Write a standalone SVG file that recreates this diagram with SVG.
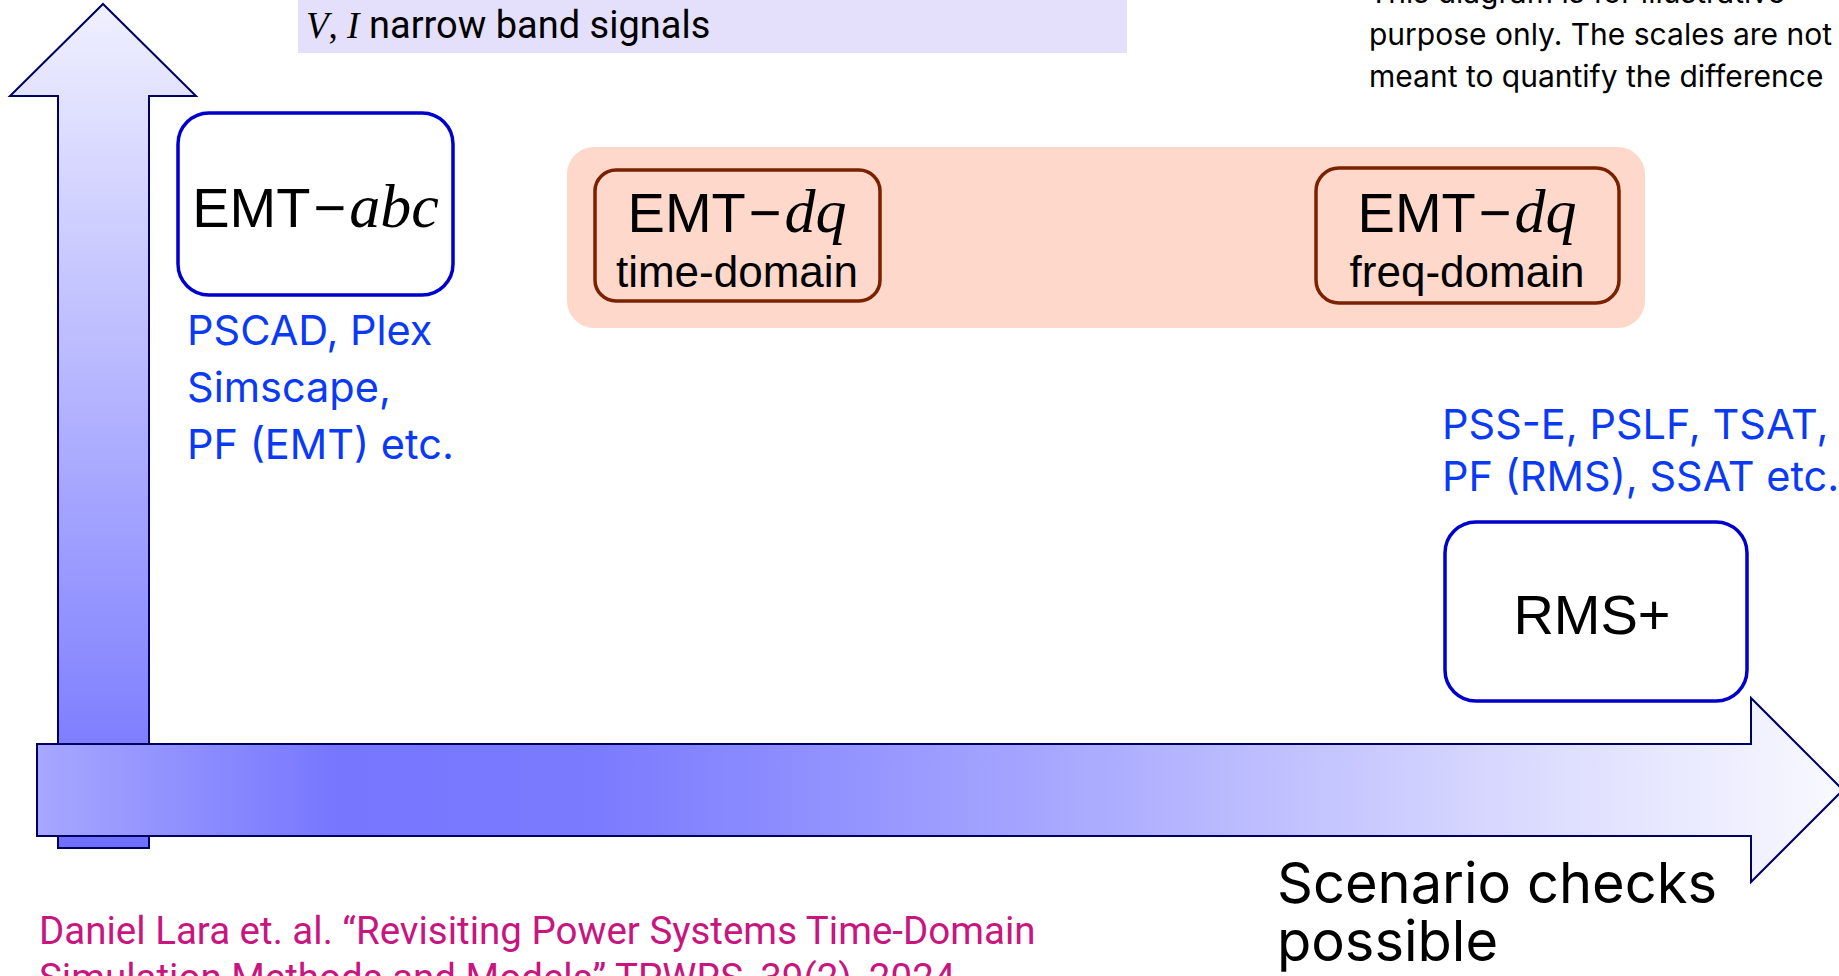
<svg xmlns="http://www.w3.org/2000/svg" width="1839" height="976" viewBox="0 0 1839 976">
<defs>
<linearGradient id="gv" gradientUnits="userSpaceOnUse" x1="0" y1="4" x2="0" y2="848">
<stop offset="0" stop-color="#f0f0ff"/>
<stop offset="1" stop-color="#6f6fff"/>
</linearGradient>
<linearGradient id="gh" gradientUnits="userSpaceOnUse" x1="37" y1="0" x2="1843" y2="0">
<stop offset="0" stop-color="#a7a7ff"/>
<stop offset="0.168" stop-color="#7676ff"/>
<stop offset="0.31" stop-color="#7b7bff"/>
<stop offset="0.59" stop-color="#acacff"/>
<stop offset="0.81" stop-color="#d8d8ff"/>
<stop offset="1" stop-color="#f9f9ff"/>
</linearGradient>
<style>
.axis{stroke:#000060;stroke-width:2;stroke-linejoin:miter}
.bluebox{fill:#ffffff;stroke:#0000cc;stroke-width:3.5}
.brownbox{fill:none;stroke:#7a2100;stroke-width:3.5}
.big{font-family:"Liberation Sans",Arial,sans-serif;font-size:56px;fill:#000}
.math{font-family:"Liberation Serif","Times New Roman",serif;font-style:italic}
.mbig{font-size:62px}
.sub{font-family:"Liberation Sans",Arial,sans-serif;font-size:44px;fill:#000}
.tools{font-family:Inter,"Noto Sans",sans-serif;font-size:41.5px;fill:#0a3af5}
.note{font-family:Inter,"Noto Sans",sans-serif;font-size:30px;fill:#000}
.cite{font-family:Roboto,"Noto Sans",sans-serif;font-size:38.5px;fill:#c8157f}
</style>
</defs>

<g id="connectors">
<path class="axis" fill="url(#gv)" d="M58,848 L58,96 L10,96 L103,4 L196,96 L149,96 L149,848 Z"/>
<path class="axis" fill="url(#gh)" d="M37,744 L1751,744 L1751,698 L1843,790 L1751,882 L1751,836 L37,836 Z"/>
</g>

<g id="label-signals">
<rect x="298" y="0" width="829" height="53" fill="#e4e0fb"/>
<text x="306" y="38" font-family="Roboto,sans-serif" font-size="38" fill="#000"><tspan class="math" font-size="37">V</tspan><tspan font-family="Liberation Serif,serif" font-size="37">, </tspan><tspan class="math" font-size="37">I</tspan><tspan x="369">narrow band signals</tspan></text>
</g>

<g id="note">
<text class="note" x="1369" y="3">This diagram is for illustrative</text>
<text class="note" x="1369" y="45">purpose only. The scales are not</text>
<text class="note" x="1369" y="87">meant to quantify the difference</text>
</g>

<g id="node-emt-abc">
<rect class="bluebox" x="178" y="113" width="275" height="182" rx="31"/>
<text class="big" x="315.5" y="227" text-anchor="middle">EMT<tspan dx="3">−</tspan><tspan class="math mbig" dx="3">abc</tspan></text>
</g>

<g id="tools-emt">
<text class="tools" x="187" y="345">PSCAD, Plex</text>
<text class="tools" x="187" y="402">Simscape,</text>
<text class="tools" x="187" y="459">PF (EMT) etc.</text>
</g>

<g id="group-dq">
<rect x="567" y="147" width="1078" height="181" rx="27" fill="#fed8cb"/>
</g>

<g id="node-emt-dq-time">
<rect class="brownbox" x="595" y="170" width="285" height="131" rx="21"/>
<text class="big" x="737" y="232" text-anchor="middle">EMT<tspan dx="3">−</tspan><tspan class="math mbig" dx="3">dq</tspan></text>
<text class="sub" x="737" y="287" text-anchor="middle">time-domain</text>
</g>

<g id="node-emt-dq-freq">
<rect class="brownbox" x="1316" y="168" width="303" height="135" rx="23"/>
<text class="big" x="1467" y="232" text-anchor="middle">EMT<tspan dx="3">−</tspan><tspan class="math mbig" dx="3">dq</tspan></text>
<text class="sub" x="1467" y="287" text-anchor="middle">freq-domain</text>
</g>

<g id="tools-rms">
<text class="tools" x="1442" y="439">PSS-E, PSLF, TSAT,</text>
<text class="tools" x="1442" y="491">PF (RMS), SSAT etc.</text>
</g>

<g id="node-rms">
<rect class="bluebox" x="1445" y="522" width="302" height="179" rx="31"/>
<text class="big" x="1592" y="634" text-anchor="middle">RMS+</text>
</g>

<g id="x-label">
<text font-family="Inter,'Noto Sans',sans-serif" font-size="56" fill="#000"><tspan x="1277" y="903">Scenario checks</tspan><tspan x="1277" y="961">possible</tspan></text>
</g>

<g id="citation">
<text class="cite" x="39" y="944">Daniel Lara et. al. “Revisiting Power Systems Time-Domain</text>
<text class="cite" x="39" y="991">Simulation Methods and Models” TPWRS, 39(2), 2024</text>
</g>
</svg>
